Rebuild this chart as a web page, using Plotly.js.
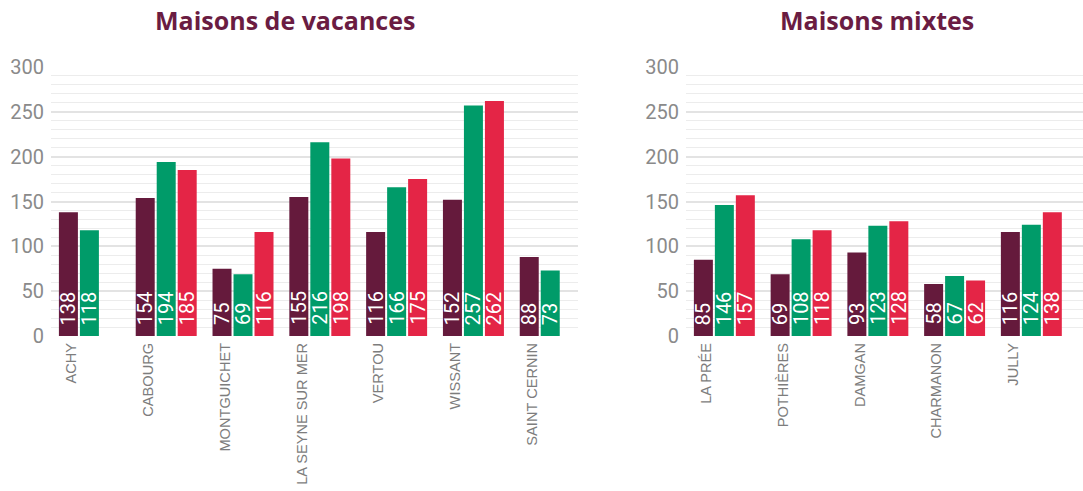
<!DOCTYPE html>
<html>
<head>
<meta charset="utf-8">
<script src="https://cdn.plot.ly/plotly-3.0.1.min.js"></script>
<style>html,body{margin:0;padding:0;background:#fff;}#chart{width:1083px;height:491px;}</style>
</head>
<body>
<div id="chart"></div>
<script>
// ---- Data ----
const vacancesCategories = ["ACHY", "CABOURG", "MONTGUICHET", "LA SEYNE SUR MER", "VERTOU", "WISSANT", "SAINT CERNIN"];
const vacancesSerie1 = [138, 154, 75, 155, 116, 152, 88];
const vacancesSerie2 = [118, 194, 69, 216, 166, 257, 73];
const vacancesSerie3 = [null, 185, 116, 198, 175, 262, null];

const mixtesCategories = ["LA PRÉE", "POTHIÈRES", "DAMGAN", "CHARMANON", "JULLY"];
const mixtesSerie1 = [85, 69, 93, 58, 116];
const mixtesSerie2 = [146, 108, 123, 67, 124];
const mixtesSerie3 = [157, 118, 128, 62, 138];

const titles = ["Maisons de vacances", "Maisons mixtes"];
const yTicks = [0, 50, 100, 150, 200, 250, 300];

// ---- Styles ----
const colors = ["#651a3c", "#009b69", "#e42546"];
const titleColor = "#6a1c42";
const BARGAP = 0.18;

const traces = [];
const annotations = [];

function addPanel(cats, series, xa, ya) {
  series.forEach((vals, i) => {
    traces.push({
      type: "bar", x: cats, y: vals, xaxis: xa, yaxis: ya,
      marker: { color: colors[i] }, hoverinfo: "none", showlegend: false
    });
    const off = (i - 1) * (1 - BARGAP) / 3;
    vals.forEach((v, j) => {
      if (v === null || v === undefined) return;
      annotations.push({
        xref: xa, yref: ya, x: j + off, y: 0,
        text: String(v), showarrow: false, textangle: -90,
        xanchor: "center", yanchor: "bottom", yshift: 9,
        font: { family: "Roboto, sans-serif", size: 20, color: "#ffffff" }
      });
    });
  });
}

addPanel(vacancesCategories, [vacancesSerie1, vacancesSerie2, vacancesSerie3], "x", "y");
addPanel(mixtesCategories, [mixtesSerie1, mixtesSerie2, mixtesSerie3], "x2", "y2");

annotations.push({
  xref: "paper", yref: "paper", x: 0.2267, y: 1.175, xanchor: "center", yanchor: "middle",
  text: "<b>" + titles[0] + "</b>", showarrow: false,
  font: { family: "Open Sans, sans-serif", size: 25, color: titleColor }
});
annotations.push({
  xref: "paper", yref: "paper", x: 0.8004, y: 1.175, xanchor: "center", yanchor: "middle",
  text: "<b>" + titles[1] + "</b>", showarrow: false,
  font: { family: "Open Sans, sans-serif", size: 25, color: titleColor }
});

const xCommon = {
  type: "category", showgrid: false, zeroline: false, showline: false, ticks: "",
  tickangle: -90, automargin: false, fixedrange: true,
  ticklabelshift: -18, ticklabelstandoff: 3,
  tickfont: { family: "Liberation Sans, Arial, sans-serif", size: 14.6, color: "#7d7d7d" }
};
const yCommon = {
  range: [0, 300], tickvals: yTicks, ticktext: yTicks.map(String),
  showgrid: true, gridcolor: "#e3e3e3", gridwidth: 2,
  zeroline: false, showline: false, ticks: "", ticklabelstandoff: 6,
  automargin: false, fixedrange: true,
  minor: { dtick: 10, tick0: 0, showgrid: true, gridcolor: "#ececec", gridwidth: 1 },
  tickfont: { family: "Roboto, sans-serif", size: 20, color: "#8a8a8a" }
};

const layout = {
  width: 1083, height: 491,
  margin: { l: 51, r: 0, t: 67, b: 155 },
  paper_bgcolor: "#ffffff", plot_bgcolor: "#ffffff",
  barmode: "group", bargap: BARGAP, bargroupgap: 0.095,
  showlegend: false,
  xaxis: Object.assign({}, xCommon, { domain: [0, 0.5107], anchor: "y", range: [-0.5, 6.362] }),
  yaxis: Object.assign({}, yCommon, { anchor: "x" }),
  xaxis2: Object.assign({}, xCommon, { domain: [0.6153, 1], anchor: "y2", range: [-0.5, 4.673] }),
  yaxis2: Object.assign({}, yCommon, { anchor: "x2" }),
  annotations: annotations
};

Plotly.newPlot("chart", traces, layout, { displayModeBar: false, staticPlot: true });
</script>
</body>
</html>
